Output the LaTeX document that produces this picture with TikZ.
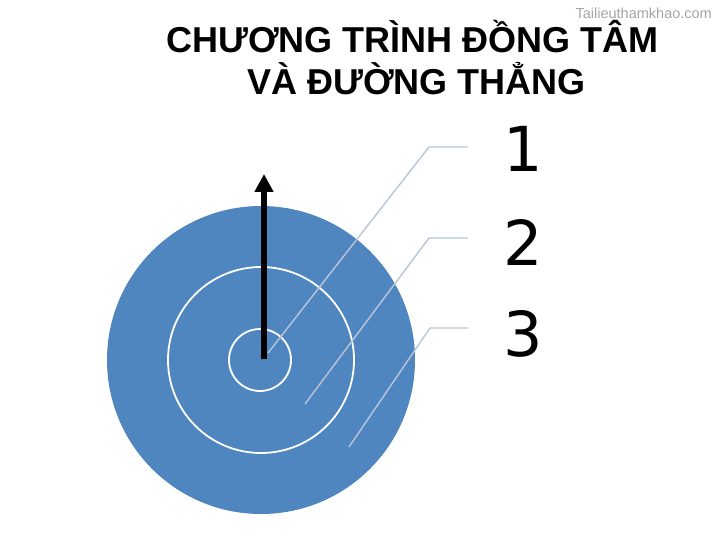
\documentclass[tikz,border=0pt]{standalone}
\usepackage{fontspec}
\setmainfont{Liberation Sans}
\newfontfamily\djfont{DejaVu Sans}
\usetikzlibrary{arrows.meta}
\definecolor{discblue}{RGB}{80,134,192}
\definecolor{leadercol}{RGB}{185,197,218}
\definecolor{wmgray}{RGB}{165,165,165}
\tikzset{
  ring/.style={circle, draw=white, line width=1.8pt, inner sep=0pt},
  leader/.style={draw=leadercol, line width=1.4pt},
  numlabel/.style={anchor=base, font=\djfont\fontsize{62}{70}\selectfont, inner sep=0pt},
  titleline/.style={anchor=base, font=\bfseries\fontsize{36}{42}\selectfont, inner sep=0pt},
}
\begin{document}
\begin{tikzpicture}[x=1pt,y=-1pt]
\useasboundingbox (0,0) rectangle (720,540);
% disc
\node[circle, fill=discblue, minimum size=308pt, inner sep=0pt] (outer) at (261,360) {};
\node[ring, minimum size=186pt] (middle) at (261,360) {};
\node[ring, minimum size=62pt] (inner) at (260,360) {};
% arrow
\coordinate (abot) at (264,359);
\coordinate (atop) at (264,174);
\draw[line width=6pt, -{Triangle[width=18pt,length=18pt]}] (abot) -- (atop);
% labels
\node[numlabel] (n1) at (523,172) {1};
\node[numlabel] (n2) at (523,265) {2};
\node[numlabel] (n3) at (523,356) {3};
% leaders
\coordinate (s1) at (268,353);
\coordinate (k1) at (429,147);
\coordinate (e1) at (468,147);
\coordinate (s2) at (305,404);
\coordinate (k2) at (429,238);
\coordinate (e2) at (468,238);
\coordinate (s3) at (349,447);
\coordinate (k3) at (430,328);
\coordinate (e3) at (468,328);
\draw[leader] (s1) -- (k1) -- (e1);
\draw[leader] (s2) -- (k2) -- (e2);
\draw[leader] (s3) -- (k3) -- (e3);
% title
\node[titleline] (t1) at (412.5,53) {CHƯƠNG TRÌNH ĐỒNG TÂM};
\node[titleline] (t2) at (416.5,95) {VÀ ĐƯỜNG THẲNG};
% watermark
\node[anchor=base east, text=wmgray, font=\fontsize{14.5}{16}\selectfont, inner sep=0pt] (wm) at (712,19) {Tailieuthamkhao.com};
\end{tikzpicture}
\end{document}
